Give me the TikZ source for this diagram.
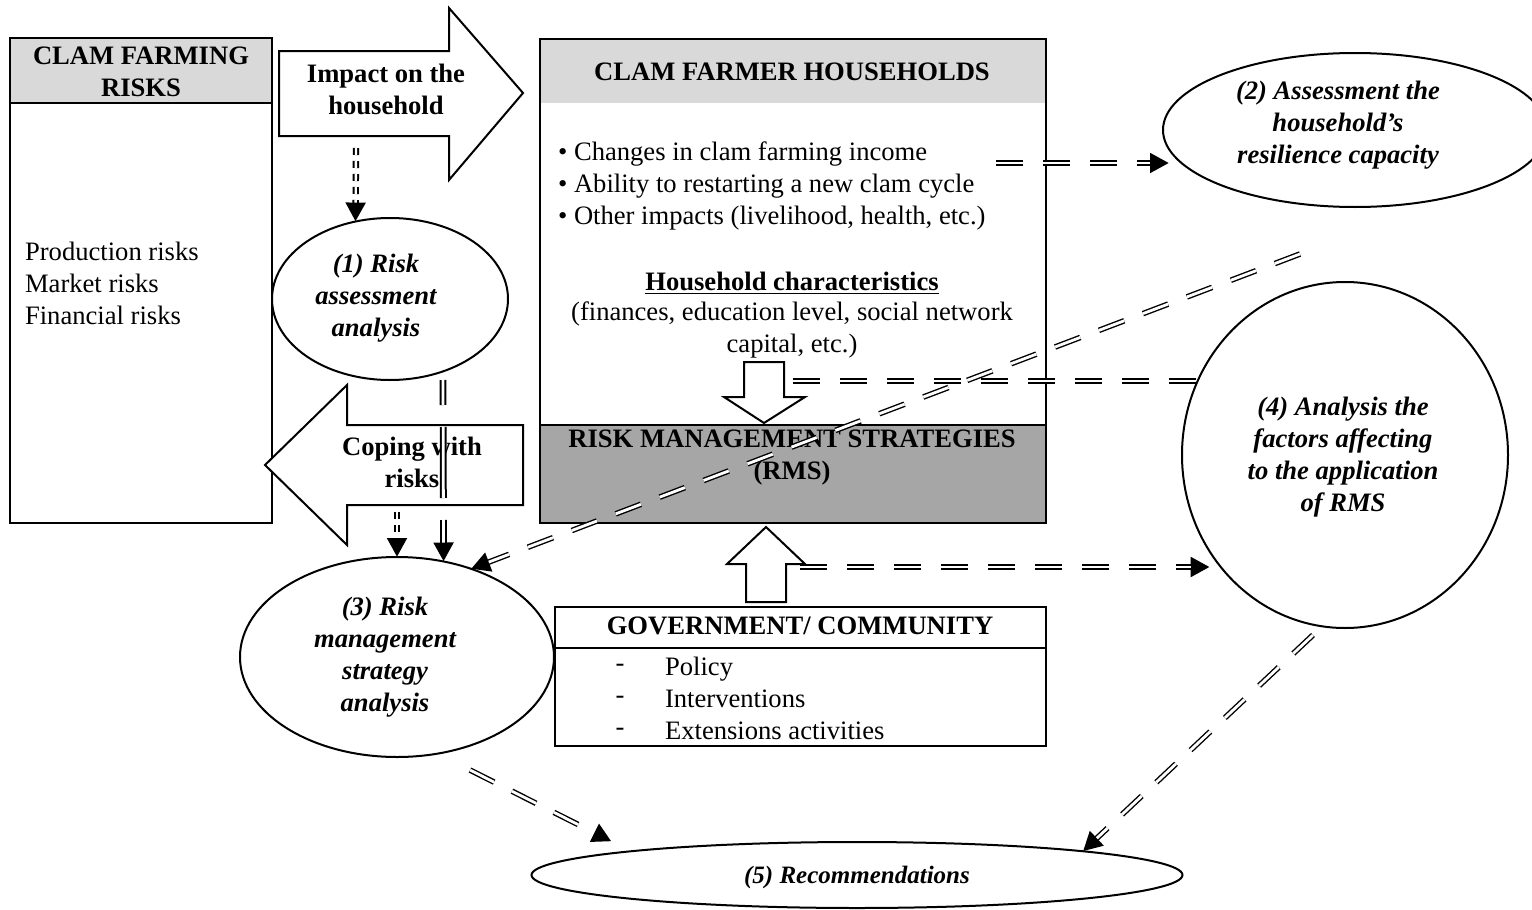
\documentclass[tikz,border=0pt]{standalone}
\usepackage{fontspec}
\setmainfont{Liberation Serif}
\usetikzlibrary{shapes.geometric,arrows.meta}
\definecolor{headgray}{HTML}{D9D9D9}
\definecolor{rmsgray}{HTML}{A6A6A6}

\begin{document}
\begin{tikzpicture}[x=0.5pt,y=-0.5pt,font=\fontsize{13.3}{16}\selectfont,
  >={Triangle[length=9.5pt,width=9.5pt]},
  frame/.style={draw,line width=1pt},
  block/.style={draw,line width=1pt,fill=white,line join=miter},
  phase/.style={draw,ellipse,line width=1pt,inner sep=0pt,outer sep=0pt},
  phasetext/.style={align=center,font=\fontsize{13.3}{16}\selectfont\bfseries\itshape},
  head/.style={align=center,font=\fontsize{13.3}{16}\selectfont\bfseries},
  link/.style={line width=2.8pt,dash pattern=on 13.5pt off 10pt,postaction={draw=white,line width=1.4pt,-}},
  linkto/.style={line width=2.8pt,dash pattern=on 13.5pt off 10pt,->,shorten >=#1,
    postaction={draw=white,line width=1.4pt,-,shorten >=#1+9.5pt}},
  linkto/.default=0pt,
  tickto/.style={line width=3.2pt,dash pattern=on 3.5pt off 3pt,->,
    postaction={draw=white,line width=1.2pt,-,shorten >=9.5pt}},
  railto/.style={line width=3.4pt,dash pattern=on 35.5pt off 11pt,dash phase=23pt,->,
    postaction={draw=white,line width=1.4pt,-,shorten >=9.5pt}}]
\useasboundingbox (0,0) rectangle (1532,910);

% risks box
\fill[headgray] (10,38) rectangle (272,103);
\draw[frame] (10,103) -- (272,103);
\draw[frame] (10,38) rectangle (272,523);
\node[head] (riskhead) at (141,72) {CLAM FARMING\\RISKS};
\node[anchor=west,align=left] (risks) at (18,283) {Production risks\\Market risks\\Financial risks};

% households box
\fill[headgray] (540,39) rectangle (1046,103);
\fill[rmsgray] (540,425) rectangle (1046,523);
\draw[frame] (540,39) rectangle (1046,523);
\draw[frame] (540,425) -- (1046,425);
\node[head] (house) at (792,72) {CLAM FARMER HOUSEHOLDS};
\node[anchor=west,align=left] (impacts) at (551,186) {\textbullet\ Changes in clam farming income\\
  \textbullet\ Ability to restarting a new clam cycle\\
  \textbullet\ Other impacts (livelihood, health, etc.)};
\node[head] (charhead) at (792,283) {\underline{Household characteristics}};
\node[align=center] (chars) at (792,330) {(finances, education level, social network\\capital, etc.)};
\node[head] (rms) at (792,458) {RISK MANAGEMENT STRATEGIES\\(RMS)};
\draw[block] (744,362) -- (784,362) -- (784,397) -- (805,397) -- (764,423) -- (724,397) -- (744,397) -- cycle;

% government box
\draw[block] (746,602) -- (746,564) -- (727,564) -- (766,527) -- (805,564) -- (786,564) -- (786,602) -- cycle;
\draw[frame] (555,607) rectangle (1046,746);
\draw[frame] (555,648) -- (1046,648);
\node[head] (gov) at (800,626) {GOVERNMENT/ COMMUNITY};
\node[align=center] (govdash) at (620,700) {-\\-\\-};
\node[anchor=west,align=left] (govitems) at (658,698) {Policy\\Interventions\\Extensions activities};

% block arrows
\draw[block] (279,51) -- (449,51) -- (449,8) -- (523,93) -- (449,180) -- (449,136) -- (279,136) -- cycle;
\node[head] (impact) at (386,89) {Impact on the\\household};
\draw[block] (523,425) -- (347,425) -- (347,385) -- (265,465) -- (347,545) -- (347,505) -- (523,505) -- cycle;
\node[head] (coping) at (412,462) {Coping with\\risks};

% analysis steps
\node[phase,minimum width=118pt,minimum height=81pt] (a1) at (390,299) {};
\node[phasetext] (t1) at (376,298) {(1) Risk\\assessment\\analysis};
\node[phase,minimum width=192pt,minimum height=77pt] (a2) at (1355,130) {};
\node[phasetext] (t2) at (1338,125) {(2) Assessment the\\household's\\resilience capacity};
\node[phase,minimum width=157pt,minimum height=100pt] (a3) at (397,657) {};
\node[phasetext] (t3) at (385,657) {(3) Risk\\management\\strategy\\analysis};
\node[phase,minimum width=163pt,minimum height=173pt] (a4) at (1345,455) {};
\node[phasetext] (t4) at (1343,457) {(4) Analysis the\\factors affecting\\to the application\\of RMS};
\node[phase,minimum width=325.5pt,minimum height=33pt] (a5) at (857,875) {};
\node[phasetext,font=\fontsize{12.5}{15}\selectfont\bfseries\itshape] (t5) at (857,877) {(5) Recommendations};

% links
\coordinate (a0) at (356,148);
\coordinate (b0) at (397,512);
\coordinate (c0) at (443,380);
\coordinate (d0) at (996,163);
\coordinate (e0) at (793,381);
\coordinate (f0) at (1300,254);
\coordinate (g0) at (800,567);
\coordinate (h0) at (470,770);
\coordinate (i0) at (1313,635);
\draw[tickto] (a0) -- (a1.114);
\draw[tickto] (b0) -- (a3.north);
\draw[railto] (c0) -- (a3.64);
\draw[linkto=-3pt] (d0) -- (d0 -| a2.west);
\draw[link] (e0) -- (e0 -| a4.153);
\draw[linkto] (f0) -- (a3.50);
\draw[linkto=5.5pt] (g0) -- (g0 -| a4.222);
\draw[linkto=11pt] (h0) -- (a5.174);
\draw[linkto] (i0) -- (a5.6);
\end{tikzpicture}
\end{document}
